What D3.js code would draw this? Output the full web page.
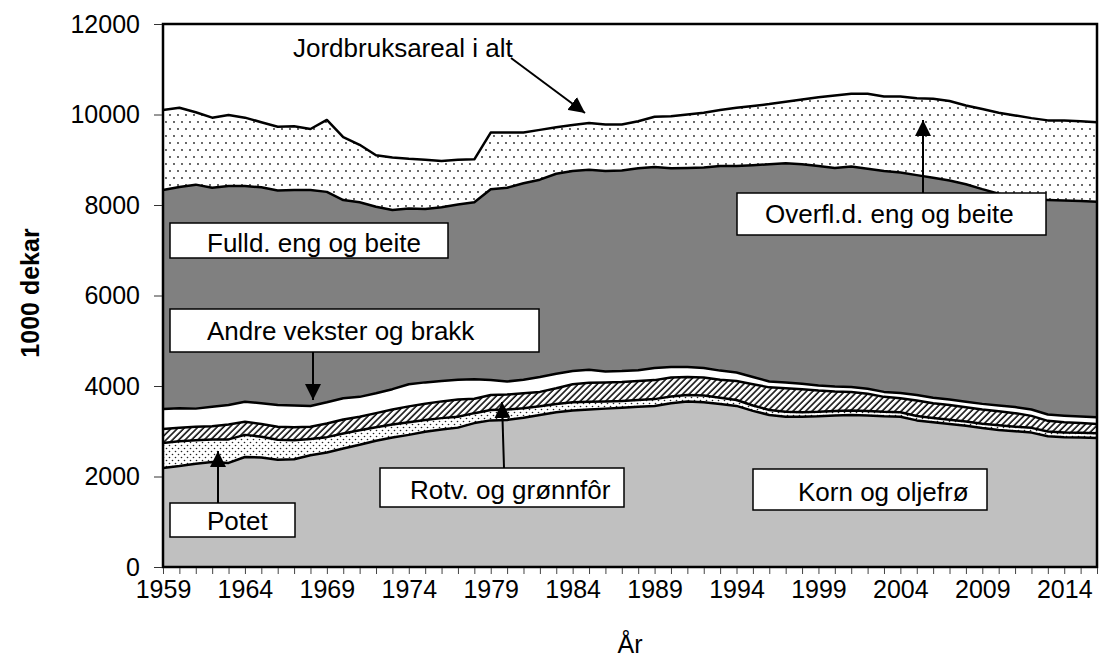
<!DOCTYPE html>
<html>
<head>
<meta charset="utf-8">
<script src="https://cdn.jsdelivr.net/npm/d3@7"></script>
<style>
  body { margin: 0; background: #fff; }
  svg { font-family: "Liberation Sans", Arial, sans-serif; }
</style>
</head>
<body>
<svg id="chart" width="1101" height="657"></svg>
<script>
// år
const years = [1959, 1960, 1961, 1962, 1963, 1964, 1965, 1966, 1967, 1968,
  1969, 1970, 1971, 1972, 1973, 1974, 1975, 1976, 1977, 1978,
  1979, 1980, 1981, 1982, 1983, 1984, 1985, 1986, 1987, 1988,
  1989, 1990, 1991, 1992, 1993, 1994, 1995, 1996, 1997, 1998,
  1999, 2000, 2001, 2002, 2003, 2004, 2005, 2006, 2007, 2008,
  2009, 2010, 2011, 2012, 2013, 2014, 2015, 2016]

// 1000 dekar, nedenfra og opp
const korn = [2190, 2230, 2280, 2320, 2300, 2430, 2420, 2370, 2380, 2470,
  2530, 2620, 2700, 2790, 2860, 2920, 2990, 3040, 3080, 3180,
  3240, 3250, 3300, 3360, 3420, 3460, 3480, 3500, 3520, 3540,
  3560, 3620, 3660, 3640, 3600, 3560, 3450, 3360, 3320, 3320,
  3330, 3350, 3360, 3350, 3330, 3320, 3240, 3200, 3160, 3120,
  3070, 3030, 3000, 2970, 2890, 2870, 2860, 2850]
const potet = [550, 550, 520, 500, 520, 490, 460, 440, 420, 360,
  340, 330, 320, 300, 290, 280, 260, 250, 240, 220,
  230, 230, 210, 190, 180, 180, 170, 160, 150, 150,
  150, 150, 140, 150, 140, 130, 120, 110, 110, 100,
  100, 100, 100, 100, 100, 100, 95, 95, 95, 95,
  95, 100, 100, 105, 105, 105, 105, 105]
const rotv = [310, 300, 300, 290, 330, 290, 280, 290, 290, 270,
  300, 310, 300, 310, 330, 350, 360, 370, 380, 320,
  330, 330, 330, 320, 350, 400, 420, 420, 420, 420,
  420, 420, 400, 400, 400, 420, 470, 500, 520, 510,
  470, 430, 410, 380, 330, 310, 345, 325, 325, 315,
  315, 310, 300, 265, 235, 225, 215, 205]
const andre = [440, 430, 400, 430, 430, 440, 460, 480, 480, 460,
  470, 470, 440, 440, 450, 490, 470, 450, 440, 430,
  330, 290, 300, 330, 320, 290, 290, 240, 240, 240,
  270, 230, 220, 210, 200, 190, 160, 130, 130, 120,
  110, 110, 110, 110, 110, 115, 120, 120, 120, 120,
  125, 130, 135, 140, 140, 145, 145, 150]
const fulld = [4840, 4890, 4950, 4840, 4840, 4770, 4770, 4740, 4760, 4770,
  4650, 4380, 4300, 4120, 3960, 3880, 3830, 3840, 3870, 3910,
  4220, 4280, 4340, 4360, 4420, 4420, 4420, 4430, 4430, 4460,
  4440, 4390, 4400, 4430, 4520, 4560, 4680, 4800, 4840, 4850,
  4850, 4830, 4870, 4860, 4880, 4875, 4860, 4860, 4840, 4810,
  4745, 4680, 4625, 4640, 4740, 4755, 4765, 4760]
const overfl = [1770, 1750, 1600, 1550, 1570, 1510, 1440, 1410, 1410, 1350,
  1590, 1390, 1270, 1140, 1160, 1100, 1090, 1020, 990, 950,
  1250, 1220, 1120, 1100, 1030, 1020, 1030, 1030, 1020, 1040,
  1110, 1150, 1180, 1210, 1240, 1290, 1310, 1330, 1360, 1430,
  1520, 1600, 1610, 1660, 1650, 1680, 1700, 1750, 1760, 1740,
  1770, 1790, 1820, 1800, 1760, 1770, 1760, 1760]

const yTicks = [0, 2000, 4000, 6000, 8000, 10000, 12000]
const xLabels = [1959, 1964, 1969, 1974, 1979, 1984, 1989, 1994, 1999, 2004, 2009, 2014]

const svg = d3.select('#chart')
const plotL = 163, plotR = 1097, plotT = 24, plotB = 567

const x = d3.scaleLinear().domain([years[0], years[years.length - 1]]).range([plotL, plotR])
const y = d3.scaleLinear().domain([0, 12000]).range([plotB, plotT])

// mønstre
const defs = svg.append('defs')

let p = defs.append('pattern').attr('id', 'sparse')
  .attr('patternUnits', 'userSpaceOnUse').attr('width', 8).attr('height', 14)
p.append('rect').attr('width', 8).attr('height', 14).attr('fill', '#fff')
p.append('circle').attr('cx', 2).attr('cy', 3).attr('r', 0.9).attr('fill', '#222')
p.append('circle').attr('cx', 6).attr('cy', 10).attr('r', 0.9).attr('fill', '#222')

p = defs.append('pattern').attr('id', 'dense')
  .attr('patternUnits', 'userSpaceOnUse').attr('width', 6).attr('height', 6)
p.append('rect').attr('width', 6).attr('height', 6).attr('fill', '#fff')
p.append('circle').attr('cx', 1.5).attr('cy', 1.5).attr('r', 0.8).attr('fill', '#222')
p.append('circle').attr('cx', 4.5).attr('cy', 4.5).attr('r', 0.8).attr('fill', '#222')

p = defs.append('pattern').attr('id', 'hatch')
  .attr('patternUnits', 'userSpaceOnUse').attr('width', 4.5).attr('height', 4.5)
  .attr('patternTransform', 'rotate(45)')
p.append('rect').attr('width', 4.5).attr('height', 4.5).attr('fill', '#fff')
p.append('line').attr('x1', 1).attr('y1', 0).attr('x2', 1).attr('y2', 4.5)
  .attr('stroke', '#000').attr('stroke-width', 1.5)

defs.append('marker').attr('id', 'head')
  .attr('viewBox', '0 0 10 10').attr('refX', 10).attr('refY', 5)
  .attr('markerWidth', 8).attr('markerHeight', 8).attr('markerUnits', 'strokeWidth')
  .attr('orient', 'auto')
  .append('path').attr('d', 'M0,0L10,5L0,10Z').attr('fill', '#000')

// data og stabling
const keys = ['korn', 'potet', 'rotv', 'andre', 'fulld', 'overfl']
const fills = ['#c0c0c0', 'url(#dense)', 'url(#hatch)', '#fff', '#808080', 'url(#sparse)']
const table = years.map((yr, i) => ({
  year: yr, korn: korn[i], potet: potet[i], rotv: rotv[i],
  andre: andre[i], fulld: fulld[i], overfl: overfl[i]
}))
const series = d3.stack().keys(keys)(table)

const area = d3.area()
  .x(d => x(d.data.year))
  .y0(d => y(d[0]))
  .y1(d => y(d[1]))
const topLine = d3.line()
  .x(d => x(d.data.year))
  .y(d => y(d[1]))

svg.append('g').selectAll('path')
  .data(series)
  .enter()
  .append('path')
  .attr('d', area)
  .attr('fill', (d, i) => fills[i])

svg.append('g').selectAll('path')
  .data(series)
  .enter()
  .append('path')
  .attr('d', topLine)
  .attr('fill', 'none')
  .attr('stroke', '#000')
  .attr('stroke-width', 2.5)
  .attr('stroke-linejoin', 'round')

// ramme
svg.append('rect')
  .attr('x', plotL).attr('y', plotT)
  .attr('width', plotR - plotL).attr('height', plotB - plotT)
  .attr('fill', 'none').attr('stroke', '#000').attr('stroke-width', 2.5)

// akser
const yAxis = svg.append('g')
  .attr('transform', `translate(${plotL - 1},0)`)
  .call(d3.axisLeft(y).tickValues(yTicks).tickSize(8).tickPadding(14).tickFormat(d3.format('d')))
yAxis.select('.domain').remove()
yAxis.selectAll('line').attr('stroke', '#333').attr('stroke-width', 1)
yAxis.selectAll('text').style('font-size', '25px').attr('fill', '#000')

const xAxis = svg.append('g')
  .attr('transform', `translate(0,${plotB + 1})`)
  .call(d3.axisBottom(x).tickValues(years).tickSize(6).tickPadding(6)
    .tickFormat(d => xLabels.includes(d) ? d : ''))
xAxis.select('.domain').remove()
xAxis.selectAll('line').attr('stroke', '#444').attr('stroke-width', 1)
xAxis.selectAll('text').style('font-size', '25px').attr('fill', '#000')

svg.append('text')
  .attr('transform', 'translate(39,293) rotate(-90)')
  .attr('text-anchor', 'middle')
  .style('font-size', '25px').style('font-weight', 'bold')
  .text('1000 dekar')

svg.append('text')
  .attr('x', (plotL + plotR) / 2).attr('y', 653)
  .attr('text-anchor', 'middle')
  .style('font-size', '25px')
  .text('År')

// merkelapper
const boxes = [
  { text: 'Fulld. eng og beite', x0: 170, y0: 223, x1: 448, y1: 258, tx: 207, ty: 252 },
  { text: 'Andre vekster og brakk', x0: 170, y0: 309, x1: 539, y1: 352, tx: 207, ty: 340 },
  { text: 'Potet', x0: 170, y0: 503, x1: 295, y1: 537, tx: 207, ty: 530 },
  { text: 'Rotv. og grønnfôr', x0: 380, y0: 468, x1: 624, y1: 507, tx: 410, ty: 499 },
  { text: 'Korn og oljefrø', x0: 753, y0: 469, x1: 987, y1: 510, tx: 798, ty: 501 },
  { text: 'Overfl.d. eng og beite', x0: 737, y0: 193, x1: 1046, y1: 235, tx: 765, ty: 223 }
]
const arrows = [
  [511, 58, 585, 113],
  [923, 193, 923, 120],
  [313, 352, 313, 400],
  [218, 503, 218, 451],
  [504, 468, 502, 402]
]

const lab = svg.append('g')
lab.selectAll('line')
  .data(arrows)
  .enter()
  .append('line')
  .attr('x1', d => d[0]).attr('y1', d => d[1])
  .attr('x2', d => d[2]).attr('y2', d => d[3])
  .attr('stroke', '#000').attr('stroke-width', 2)
  .attr('marker-end', 'url(#head)')

const bg = lab.selectAll('g.box')
  .data(boxes)
  .enter()
  .append('g').attr('class', 'box')
bg.append('rect')
  .attr('x', d => d.x0).attr('y', d => d.y0)
  .attr('width', d => d.x1 - d.x0).attr('height', d => d.y1 - d.y0)
  .attr('fill', '#fff').attr('stroke', '#000').attr('stroke-width', 1.5)
bg.append('text')
  .attr('x', d => d.tx).attr('y', d => d.ty)
  .style('font-size', '26px')
  .text(d => d.text)

lab.append('text')
  .attr('x', 293).attr('y', 57)
  .style('font-size', '26px')
  .text('Jordbruksareal i alt')
</script>
</body>
</html>
